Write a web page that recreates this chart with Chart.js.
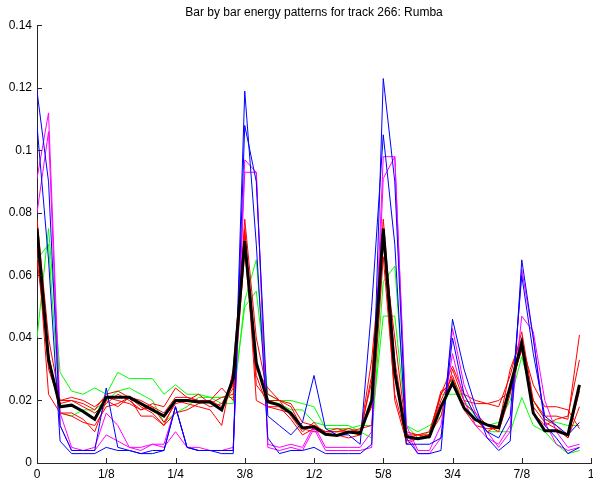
<!DOCTYPE html>
<html lang="en">
<head>
	<meta charset="UTF-8">
	<title>Bar by bar energy patterns</title>
	<style>
	*{
		margin: 0;
		padding: 0;
		box-sizing: border-box;
	}
	body{
		background: #fff;
	}
	.chartbox{
		width: 593px;
		height: 482px;
	}
	</style>
</head>
<body>
	<div class="chartbox">
		<canvas id="myChart" width="593" height="482"></canvas>
	</div>

<script src="https://cdn.jsdelivr.net/npm/chart.js"></script>

<script>
// 48 steps per bar, x = i/48
const steps = 48;
const xTickLabels = ['0', '1/8', '1/4', '3/8', '1/2', '5/8', '3/4', '7/8', '1'];

// mean pattern (thick black)
const meanLine = [0.075, 0.033, 0.018, 0.0185, 0.0165, 0.014, 0.021, 0.021, 0.021, 0.019, 0.017, 0.015,
	0.020, 0.020, 0.0195, 0.0195, 0.017, 0.027, 0.071, 0.032, 0.0196, 0.0185, 0.016, 0.0112,
	0.0116, 0.0092, 0.0088, 0.0099, 0.0095, 0.020, 0.075, 0.0288, 0.0084, 0.0078, 0.0084, 0.018,
	0.0256, 0.0176, 0.0138, 0.0122, 0.0113, 0.0244, 0.0384, 0.016, 0.0103, 0.0103, 0.009, 0.025];

// single bars
const blue1 = [0.119, 0.09, 0.012, 0.004, 0.004, 0.004, 0.024, 0.005, 0.004, 0.003, 0.003, 0.004,
	0.018, 0.005, 0.004, 0.004, 0.004, 0.004, 0.119, 0.07, 0.008, 0.003, 0.004, 0.004,
	0.005, 0.003, 0.003, 0.003, 0.003, 0.006, 0.123, 0.09, 0.008, 0.003, 0.003, 0.004,
	0.046, 0.03, 0.018, 0.008, 0.004, 0.007, 0.065, 0.04, 0.012, 0.008, 0.003, 0.005];
const blue2 = [0.108, 0.065, 0.007, 0.003, 0.003, 0.003, 0.005, 0.004, 0.004, 0.003, 0.004, 0.004,
	0.018, 0.005, 0.004, 0.004, 0.003, 0.003, 0.108, 0.09, 0.015, 0.012, 0.009, 0.013,
	0.028, 0.011, 0.009, 0.009, 0.006, 0.05, 0.105, 0.07, 0.006, 0.006, 0.006, 0.008,
	0.04, 0.022, 0.015, 0.01, 0.008, 0.015, 0.06, 0.035, 0.015, 0.012, 0.009, 0.013];
const magenta1 = [0.091, 0.112, 0.016, 0.005, 0.004, 0.005, 0.016, 0.012, 0.005, 0.005, 0.006, 0.006,
	0.018, 0.005, 0.005, 0.004, 0.004, 0.004, 0.097, 0.093, 0.005, 0.004, 0.005, 0.004,
	0.011, 0.004, 0.004, 0.004, 0.004, 0.005, 0.091, 0.098, 0.01, 0.003, 0.003, 0.008,
	0.043, 0.025, 0.016, 0.01, 0.005, 0.01, 0.062, 0.04, 0.013, 0.006, 0.004, 0.005];
const magenta2 = [0.08, 0.106, 0.012, 0.004, 0.004, 0.004, 0.009, 0.007, 0.005, 0.004, 0.006, 0.005,
	0.01, 0.005, 0.004, 0.004, 0.004, 0.005, 0.093, 0.093, 0.006, 0.005, 0.006, 0.005,
	0.012, 0.005, 0.005, 0.005, 0.005, 0.01, 0.098, 0.098, 0.012, 0.004, 0.004, 0.012,
	0.035, 0.02, 0.012, 0.008, 0.006, 0.012, 0.047, 0.042, 0.02, 0.01, 0.005, 0.006];
const red1 = [0.078, 0.04, 0.02, 0.02, 0.019, 0.017, 0.022, 0.023, 0.021, 0.02, 0.018, 0.016,
	0.021, 0.021, 0.02, 0.02, 0.018, 0.024, 0.078, 0.04, 0.022, 0.02, 0.019, 0.013,
	0.012, 0.01, 0.01, 0.011, 0.01, 0.026, 0.078, 0.033, 0.009, 0.009, 0.01, 0.022,
	0.031, 0.022, 0.02, 0.019, 0.018, 0.028, 0.042, 0.02, 0.015, 0.015, 0.014, 0.041];
const red2 = [0.072, 0.022, 0.016, 0.016, 0.014, 0.01, 0.02, 0.018, 0.021, 0.015, 0.015, 0.012,
	0.02, 0.019, 0.018, 0.017, 0.012, 0.03, 0.075, 0.025, 0.02, 0.02, 0.015, 0.01,
	0.013, 0.009, 0.009, 0.008, 0.009, 0.033, 0.073, 0.02, 0.007, 0.008, 0.009, 0.02,
	0.028, 0.018, 0.014, 0.01, 0.012, 0.03, 0.04, 0.016, 0.012, 0.014, 0.015, 0.033];
const red3 = [0.07, 0.03, 0.019, 0.02, 0.018, 0.016, 0.019, 0.022, 0.02, 0.017, 0.018, 0.013,
	0.019, 0.02, 0.022, 0.019, 0.021, 0.022, 0.072, 0.03, 0.024, 0.02, 0.018, 0.011,
	0.01, 0.01, 0.01, 0.01, 0.01, 0.018, 0.07, 0.04, 0.01, 0.009, 0.008, 0.022,
	0.027, 0.017, 0.012, 0.011, 0.011, 0.025, 0.036, 0.02, 0.014, 0.012, 0.008, 0.023];
const red4 = [0.065, 0.035, 0.016, 0.015, 0.013, 0.012, 0.018, 0.019, 0.021, 0.018, 0.016, 0.012,
	0.016, 0.017, 0.019, 0.02, 0.024, 0.02, 0.068, 0.028, 0.018, 0.017, 0.016, 0.011,
	0.012, 0.01, 0.011, 0.01, 0.011, 0.012, 0.066, 0.022, 0.008, 0.009, 0.009, 0.015,
	0.03, 0.02, 0.019, 0.019, 0.02, 0.023, 0.037, 0.018, 0.013, 0.011, 0.008, 0.018];
const red5 = [0.074, 0.032, 0.02, 0.021, 0.02, 0.018, 0.021, 0.02, 0.019, 0.017, 0.019, 0.018,
	0.024, 0.021, 0.02, 0.018, 0.019, 0.025, 0.074, 0.02, 0.018, 0.018, 0.014, 0.009,
	0.011, 0.009, 0.009, 0.01, 0.009, 0.028, 0.075, 0.03, 0.006, 0.008, 0.009, 0.023,
	0.025, 0.019, 0.016, 0.012, 0.01, 0.022, 0.038, 0.025, 0.018, 0.018, 0.017, 0.011];
const green1 = [0.04, 0.075, 0.029, 0.023, 0.022, 0.024, 0.022, 0.029, 0.027, 0.027, 0.027, 0.022,
	0.025, 0.022, 0.022, 0.021, 0.021, 0.021, 0.05, 0.055, 0.022, 0.02, 0.02, 0.019,
	0.018, 0.011, 0.011, 0.011, 0.012, 0.012, 0.047, 0.047, 0.012, 0.008, 0.01, 0.022,
	0.022, 0.022, 0.015, 0.01, 0.01, 0.01, 0.021, 0.012, 0.01, 0.006, 0.003, 0.004];
const green2 = [0.065, 0.07, 0.016, 0.015, 0.017, 0.017, 0.02, 0.023, 0.024, 0.022, 0.02, 0.013,
	0.016, 0.018, 0.021, 0.021, 0.019, 0.019, 0.052, 0.065, 0.02, 0.019, 0.017, 0.017,
	0.013, 0.012, 0.012, 0.012, 0.01, 0.008, 0.058, 0.063, 0.012, 0.01, 0.012, 0.015,
	0.027, 0.02, 0.015, 0.012, 0.013, 0.02, 0.034, 0.02, 0.014, 0.013, 0.012, 0.012];

const barLines = [
	['#0000ff', blue1], ['#0000ff', blue2],
	['#ff00ff', magenta1], ['#ff00ff', magenta2],
	['#ff0000', red1], ['#ff0000', red2], ['#ff0000', red3], ['#ff0000', red4], ['#ff0000', red5],
	['#00ff00', green1], ['#00ff00', green2]
];

function toPoints(arr){
	return arr.map((v, i) => ({x: i / steps, y: v}));
}

const datasets = [{
	data: toPoints(meanLine),
	borderColor: '#000000',
	borderWidth: 3,
	order: 0
}];
barLines.forEach(b => {
	datasets.push({
		data: toPoints(b[1]),
		borderColor: b[0],
		borderWidth: 1,
		order: 1
	});
});

// matlab style ticks pointing into the plot
const innerTicks = {
	id: 'innerTicks',
	afterDatasetsDraw(chart){
		const ctx = chart.ctx;
		const xs = chart.scales.x, ys = chart.scales.y;
		const area = chart.chartArea;
		ctx.save();
		ctx.strokeStyle = '#262626';
		ctx.lineWidth = 1;
		ctx.beginPath();
		xs.ticks.forEach(t => {
			const px = Math.round(xs.getPixelForValue(t.value)) + 0.5;
			ctx.moveTo(px, area.bottom);
			ctx.lineTo(px, area.bottom - 5);
		});
		ys.ticks.forEach(t => {
			const py = Math.round(ys.getPixelForValue(t.value)) + 0.5;
			ctx.moveTo(area.left, py);
			ctx.lineTo(area.left + 5, py);
		});
		ctx.stroke();
		ctx.restore();
	}
};

const config = {
	type: 'line',
	data: {datasets},
	options: {
		responsive: false,
		animation: false,
		layout: {padding: {left: 0, right: 2, top: 0, bottom: 0}},
		elements: {
			point: {radius: 0},
			line: {tension: 0, fill: false}
		},
		plugins: {
			legend: {display: false},
			tooltip: {enabled: false},
			title: {
				display: true,
				fullSize: false,
				text: 'Bar by bar energy patterns for track 266: Rumba',
				color: '#000',
				font: {family: 'Liberation Sans', size: 12, weight: 'normal'},
				padding: {top: 5, bottom: 6}
			}
		},
		scales: {
			x: {
				type: 'linear',
				min: 0,
				max: 1,
				afterFit: s => { s.height = 19; s.paddingLeft = 0; s.paddingRight = 0; },
				grid: {drawOnChartArea: false, drawTicks: false},
				border: {display: true, color: '#262626', width: 1},
				ticks: {
					stepSize: 0.125,
					padding: 4,
					maxRotation: 0,
					color: '#000',
					font: {family: 'Liberation Sans', size: 12},
					callback: (v) => xTickLabels[Math.round(v * 8)]
				}
			},
			y: {
				min: 0,
				max: 0.14,
				afterFit: s => { s.width = 37; s.paddingTop = 0; s.paddingBottom = 0; },
				grid: {drawOnChartArea: false, drawTicks: false},
				border: {display: true, color: '#262626', width: 1},
				ticks: {
					stepSize: 0.02,
					padding: 5,
					color: '#000',
					font: {family: 'Liberation Sans', size: 12},
					callback: (v) => String(+v.toFixed(2))
				}
			}
		}
	},
	plugins: [innerTicks]
};

const myChart = new Chart(document.getElementById('myChart'), config);
</script>
</body>
</html>
